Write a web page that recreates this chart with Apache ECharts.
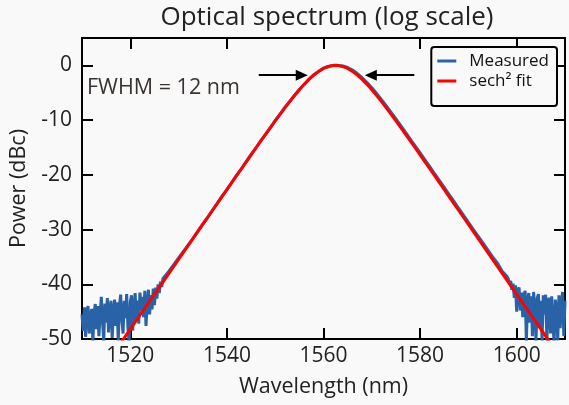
<!DOCTYPE html>
<html>
<head>
<meta charset="utf-8">
<script src="https://cdn.jsdelivr.net/npm/echarts@6/dist/echarts.min.js"></script>
<style>
  html, body { margin: 0; padding: 0; background: #f9f9f9; }
  #chart { width: 569px; height: 405px; }
</style>
</head>
<body>
<div id="chart"></div>
<script>
// tick positions
const xTicks = [1520, 1540, 1560, 1580, 1600];
const yTicks = [-50, -40, -30, -20, -10, 0];

// sech^2 fit (dBc)
const fitWl = [
  1518, 1519, 1520, 1521, 1522, 1523, 1524, 1525, 1526, 1527,
  1528, 1529, 1530, 1531, 1532, 1533, 1534, 1535, 1536, 1537,
  1538, 1539, 1540, 1541, 1542, 1543, 1544, 1545, 1546, 1547,
  1548, 1549, 1550, 1551, 1552, 1553, 1554, 1555, 1556, 1557,
  1558, 1559, 1560, 1561, 1562, 1563, 1564, 1565, 1566, 1567,
  1568, 1569, 1570, 1571, 1572, 1573, 1574, 1575, 1576, 1577,
  1578, 1579, 1580, 1581, 1582, 1583, 1584, 1585, 1586, 1587,
  1588, 1589, 1590, 1591, 1592, 1593, 1594, 1595, 1596, 1597,
  1598, 1599, 1600, 1601, 1602, 1603, 1604, 1605, 1606, 1607
];
const fitDb = [
  -50.76, -49.48, -48.21, -46.93, -45.66, -44.38, -43.10, -41.83, -40.55, -39.28,
  -38.00, -36.72, -35.45, -34.17, -32.90, -31.62, -30.35, -29.07, -27.80, -26.52,
  -25.25, -23.97, -22.70, -21.43, -20.16, -18.89, -17.62, -16.36, -15.10, -13.85,
  -12.60, -11.37, -10.15, -8.94, -7.76, -6.62, -5.51, -4.46, -3.47, -2.57,
  -1.77, -1.10, -0.57, -0.21, -0.02, -0.02, -0.21, -0.57, -1.10, -1.77,
  -2.57, -3.47, -4.46, -5.51, -6.62, -7.76, -8.94, -10.15, -11.37, -12.60,
  -13.85, -15.10, -16.36, -17.62, -18.89, -20.16, -21.43, -22.70, -23.97, -25.25,
  -26.52, -27.80, -29.07, -30.35, -31.62, -32.90, -34.17, -35.45, -36.72, -38.00,
  -39.28, -40.55, -41.83, -43.10, -44.38, -45.66, -46.93, -48.21, -49.48, -50.76
];

// measured spectrum (dBc), noisy wings
const measuredWl = [
  1510, 1510.25, 1510.5, 1510.75, 1511, 1511.25, 1511.5, 1511.75,
  1512, 1512.25, 1512.5, 1512.75, 1513, 1513.25, 1513.5, 1513.75,
  1514, 1514.25, 1514.5, 1514.75, 1515, 1515.25, 1515.5, 1515.75,
  1516, 1516.25, 1516.5, 1516.75, 1517, 1517.25, 1517.5, 1517.75,
  1518, 1518.25, 1518.5, 1518.75, 1519, 1519.25, 1519.5, 1519.75,
  1520, 1520.25, 1520.5, 1520.75, 1521, 1521.25, 1521.5, 1521.75,
  1522, 1522.25, 1522.5, 1522.75, 1523, 1523.25, 1523.5, 1523.75,
  1524, 1524.25, 1524.5, 1524.75, 1525, 1525.25, 1525.5, 1525.75,
  1526, 1526.25, 1526.5, 1526.75,
  1527, 1528, 1529, 1530, 1531, 1532, 1533, 1534, 1535, 1536,
  1537, 1538, 1539, 1540, 1541, 1542, 1543, 1544, 1545, 1546,
  1547, 1548, 1549, 1550, 1551, 1552, 1553, 1554, 1555, 1556,
  1557, 1558, 1559, 1560, 1561, 1562, 1563, 1564, 1565, 1566,
  1567, 1568, 1569, 1570, 1571, 1572, 1573, 1574, 1575, 1576,
  1577, 1578, 1579, 1580, 1581, 1582, 1583, 1584, 1585, 1586,
  1587, 1588, 1589, 1590, 1591, 1592, 1593, 1594, 1595, 1596,
  1597, 1598,
  1598.25, 1598.5, 1598.75, 1599, 1599.25, 1599.5, 1599.75, 1600,
  1600.25, 1600.5, 1600.75, 1601, 1601.25, 1601.5, 1601.75, 1602,
  1602.25, 1602.5, 1602.75, 1603, 1603.25, 1603.5, 1603.75, 1604,
  1604.25, 1604.5, 1604.75, 1605, 1605.25, 1605.5, 1605.75, 1606,
  1606.25, 1606.5, 1606.75, 1607, 1607.25, 1607.5, 1607.75, 1608,
  1608.25, 1608.5, 1608.75, 1609, 1609.25, 1609.5, 1609.75, 1610
];
const measuredDb = [
  -45.5, -48.5, -44.2, -49.6, -45.0, -44.0, -49.0, -46.0,
  -44.5, -50.5, -45.2, -43.6, -48.2, -44.0, -49.5, -45.5,
  -42.3, -46.8, -50.4, -43.5, -47.0, -42.5, -48.8, -44.6,
  -43.0, -49.8, -45.2, -42.8, -47.6, -43.3, -50.3, -44.0,
  -41.9, -46.5, -49.0, -43.0, -46.2, -41.8, -47.8, -50.5,
  -43.2, -42.0, -48.5, -44.4, -41.6, -46.8, -43.0, -47.2,
  -41.5, -44.8, -42.3, -46.0, -41.2, -47.6, -43.5, -41.0,
  -45.5, -42.0, -44.6, -40.8, -43.8, -40.6, -42.6, -40.0,
  -41.6, -39.5, -40.5, -39.0,
  -38.9, -37.6, -36.4, -35.2, -34.0, -32.8, -31.6, -30.3, -29.0, -27.8,
  -26.5, -25.2, -23.9, -22.7, -21.4, -20.1, -18.9, -17.6, -16.3, -15.1,
  -13.8, -12.6, -11.4, -10.1, -8.9, -7.7, -6.6, -5.5, -4.4, -3.5,
  -2.5, -1.7, -1.1, -0.5, -0.2, 0.0, 0.0, -0.12, -0.4, -0.85,
  -1.5, -2.25, -3.15, -4.1, -5.15, -6.25, -7.4, -8.6, -9.8, -11.0,
  -12.25, -13.5, -14.75, -16.0, -17.25, -18.5, -19.8, -21.05, -22.3, -23.6,
  -24.85, -26.15, -27.4, -28.7, -29.95, -31.2, -32.45, -33.7, -35.0, -36.1,
  -37.6, -38.6,
  -39.0, -39.8, -39.4, -41.0, -39.9, -42.5, -40.2, -45.0,
  -41.0, -40.6, -44.8, -41.5, -46.0, -42.0, -41.2, -50.5,
  -43.0, -41.6, -47.0, -42.2, -49.5, -41.4, -44.5, -50.6,
  -42.5, -41.8, -48.0, -43.0, -50.4, -42.0, -45.5, -41.9,
  -50.5, -43.0, -42.5, -49.0, -42.2, -47.5, -50.6, -42.8,
  -44.5, -50.3, -42.0, -48.0, -43.5, -41.4, -49.5, -43.0
];

// FWHM arrows: [from wavelength, to wavelength, level dBc]
const fwhmArrows = [
  [1546.6, 1555.5, -1.8],
  [1578.8, 1569.8, -1.8]
];

const font = 'Open Sans';
const chart = echarts.init(document.getElementById('chart'));

const axisLine = { onZero: false, lineStyle: { color: '#000', width: 2 } };
const tickStyle = { color: '#000', width: 2 };
const plain = v => String(v);

const option = {
  backgroundColor: '#f9f9f9',
  animation: false,
  title: {
    text: 'Optical spectrum (log scale)',
    left: 322,
    textAlign: 'center',
    top: 0,
    textStyle: { fontFamily: font, fontSize: 26, fontWeight: 'normal', color: '#222' }
  },
  legend: {
    orient: 'vertical',
    right: 12,
    top: 47,
    padding: [4, 8, 15, 6],
    itemGap: 0,
    itemWidth: 19,
    itemHeight: 3,
    icon: 'rect',
    backgroundColor: '#f9f9f9',
    borderColor: '#000',
    borderWidth: 2,
    borderRadius: 3,
    textStyle: { fontFamily: font, fontSize: 17, color: '#111', lineHeight: 20, padding: [0, 0, 0, 8] },
    data: ['Measured', 'sech² fit']
  },
  grid: { left: 78, right: 4, top: 38, bottom: 66 },
  xAxis: [
    {
      type: 'value', min: 1510, max: 1610, position: 'bottom',
      axisLine: axisLine,
      axisTick: { inside: true, length: 11, lineStyle: tickStyle, customValues: xTicks },
      axisLabel: { customValues: xTicks, formatter: plain, fontFamily: font, fontSize: 21, color: '#222', margin: 7 },
      splitLine: { show: false },
      name: 'Wavelength (nm)', nameLocation: 'middle', nameGap: 37,
      nameTextStyle: { fontFamily: font, fontSize: 21.5, color: '#222' }
    },
    {
      type: 'value', min: 1510, max: 1610, position: 'top',
      axisLine: axisLine,
      axisTick: { inside: true, length: 11, lineStyle: tickStyle, customValues: xTicks },
      axisLabel: { show: false },
      splitLine: { show: false }
    }
  ],
  yAxis: [
    {
      type: 'value', min: -50, max: 5, position: 'left',
      axisLine: axisLine,
      axisTick: { inside: true, length: 11, lineStyle: tickStyle, customValues: yTicks },
      axisLabel: { customValues: yTicks, formatter: plain, fontFamily: font, fontSize: 21, color: '#222', margin: 10 },
      splitLine: { show: false },
      name: 'Power (dBc)', nameLocation: 'middle', nameGap: 52,
      nameTextStyle: { fontFamily: font, fontSize: 21.5, color: '#222' }
    },
    {
      type: 'value', min: -50, max: 5, position: 'right',
      axisLine: axisLine,
      axisTick: { inside: true, length: 11, lineStyle: tickStyle, customValues: yTicks },
      axisLabel: { show: false },
      splitLine: { show: false }
    }
  ],
  graphic: [
    {
      type: 'text', left: 87, top: 77,
      style: { text: 'FWHM = 12 nm', fontFamily: font, fontSize: 21.5, fill: '#3a3330' }
    }
  ],
  series: [
    {
      name: 'Measured',
      type: 'line',
      showSymbol: false,
      color: '#2a62a8',
      lineStyle: { width: 3, color: '#2a62a8' },
      data: measuredWl.map((w, i) => [w, measuredDb[i]])
    },
    {
      name: 'sech² fit',
      type: 'line',
      showSymbol: false,
      color: '#ff0000',
      lineStyle: { width: 3, color: '#ff0000' },
      data: fitWl.map((w, i) => [w, fitDb[i]]),
      markLine: {
        silent: true,
        symbol: ['none', 'triangle'],
        symbolSize: [11, 12],
        label: { show: false },
        lineStyle: { color: '#000', width: 2, type: 'solid' },
        data: fwhmArrows.map(a => [{ coord: [a[0], a[2]] }, { coord: [a[1], a[2]] }])
      }
    }
  ]
};

chart.setOption(option);
</script>
</body>
</html>
